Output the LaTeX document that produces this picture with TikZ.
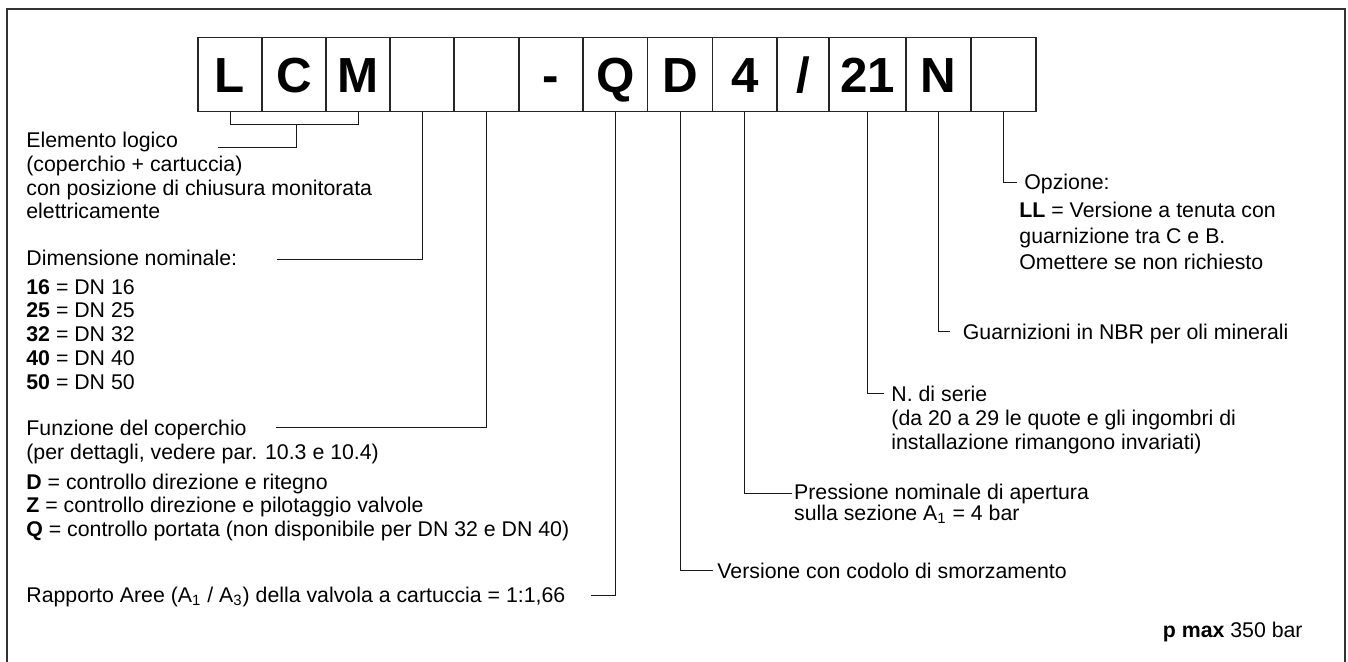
\documentclass[tikz,border=0pt]{standalone}
\usepackage{fontspec}
\setmainfont{Liberation Sans}
\begin{document}
\begin{tikzpicture}[x=0.5pt,y=-0.5pt,
  cell/.style={draw=black!85, line width=0.6pt, inner sep=0pt, minimum height=37.2pt,
    text height=17.65pt, text depth=0pt, font=\fontsize{24.65}{26}\selectfont\bfseries},
  txt/.style={anchor=base west, inner sep=0pt, font=\fontsize{10.65}{12}\selectfont},
  conn/.style={draw=black!90, line width=0.5pt},
  frame/.style={draw=black!80, line width=0.75pt}]
\useasboundingbox (0,0) rectangle (1348,662);
\clip (0,0) rectangle (1348,662);
% outer frame (open at bottom)
\draw[frame] (7,680) -- (7,9) -- (1345,9) -- (1345,680);

% code boxes
\node[cell, minimum width=32pt]   (b1)  at (230,74.5)    {L};
\node[cell, minimum width=32pt]   (b2)  at (294,74.5)    {C};
\node[cell, minimum width=32pt]   (b3)  at (358,74.5)    {M};
\node[cell, minimum width=32pt]   (b4)  at (422,74.5)    {};
\node[cell, minimum width=32.5pt] (b5)  at (486.5,74.5)  {};
\node[cell, minimum width=32pt]   (b6)  at (551,74.5)    {-};
\node[cell, minimum width=32.25pt](b7)  at (615.25,74.5) {Q};
\node[cell, minimum width=32.5pt] (b8)  at (680,74.5)    {D};
\node[cell, minimum width=32.25pt](b9)  at (744.75,74.5) {4};
\node[cell, minimum width=26pt]   (b10) at (803,74.5)    {/};
\node[cell, minimum width=38.5pt] (b11) at (867.5,74.5)  {21};
\node[cell, minimum width=32.5pt] (b12) at (938.5,74.5)  {N};
\node[cell, minimum width=32.5pt] (b13) at (1003.5,74.5) {};

% left texts
\node[txt] (e1) at (26,147.3) {Elemento logico};
\node[txt] (e2) at (26,171.2) {(coperchio + cartuccia)};
\node[txt] (e3) at (26,195.1) {con posizione di chiusura monitorata};
\node[txt] (e4) at (26,219)   {elettricamente};

\node[txt] (d0) at (26,265.7) {Dimensione nominale:};
\node[txt] (d1) at (26,294.3) {\textbf{16} = DN 16};
\node[txt] (d2) at (26,318)   {\textbf{25} = DN 25};
\node[txt] (d3) at (26,341.7) {\textbf{32} = DN 32};
\node[txt] (d4) at (26,365.4) {\textbf{40} = DN 40};
\node[txt] (d5) at (26,389.1) {\textbf{50} = DN 50};

\node[txt] (f0) at (26,435)   {Funzione del coperchio};
\node[txt] (f1) at (26,459)   {(per dettagli, vedere par. 10.3 e 10.4)};
\node[txt] (f2) at (26,489)   {\textbf{D} = controllo direzione e ritegno};
\node[txt] (f3) at (26,512.7) {\textbf{Z} = controllo direzione e pilotaggio valvole};
\node[txt] (f4) at (26,536.4) {\textbf{Q} = controllo portata (non disponibile per DN 32 e DN 40)};

\node[txt] (r0) at (26,602.7) {Rapporto Aree (A\textsubscript{1} / A\textsubscript{3}) della valvola a cartuccia = 1:1,66};

% right texts
\node[txt] (o0) at (1024,189.3) {Opzione:};
\node[txt] (o1) at (1019,217.3) {\textbf{LL} = Versione a tenuta con};
\node[txt] (o2) at (1019,243.3) {guarnizione tra C e B.};
\node[txt] (o3) at (1019,269.3) {Omettere se non richiesto};

\node[txt] (g0) at (962.5,340) {Guarnizioni in NBR per oli minerali};

\node[txt] (s0) at (891,401.7) {N. di serie};
\node[txt] (s1) at (891,425.6) {(da 20 a 29 le quote e gli ingombri di};
\node[txt] (s2) at (891,449.5) {installazione rimangono invariati)};

\node[txt] (p0) at (793.7,499.3) {Pressione nominale di apertura};
\node[txt] (p1) at (793.7,520.7) {sulla sezione A\textsubscript{1} = 4 bar};

\node[txt] (v0) at (717,578.3) {Versione con codolo di smorzamento};

\node[txt, anchor=base east] (pm) at (1303,637) {\textbf{p max} 350 bar};

% connector end points
\coordinate (lcmMid) at (296,124.3);
\coordinate (eleEnd) at (218,147.3);
\coordinate (dimEnd) at (277,260);
\coordinate (funEnd) at (276,427.7);
\coordinate (rapEnd) at (590.5,595.5);
\coordinate (verEnd) at (712.5,570.7);
\coordinate (preEnd) at (792,493.3);
\coordinate (serEnd) at (884,393.3);
\coordinate (guaEnd) at (950,331.7);
\coordinate (opzEnd) at (1017,182.3);

% connectors
\draw[conn] (b1.south) -- ++(0,12.6) -| (b3.south);
\draw[conn] (lcmMid) |- (eleEnd);
\draw[conn] (b4.south) |- (dimEnd);
\draw[conn] (b5.south) |- (funEnd);
\draw[conn] (b7.south) |- (rapEnd);
\draw[conn] (b8.south) |- (verEnd);
\draw[conn] (b9.south) |- (preEnd);
\draw[conn] (b11.south) |- (serEnd);
\draw[conn] (b12.south) |- (guaEnd);
\draw[conn] (b13.south) |- (opzEnd);
\end{tikzpicture}
\end{document}
